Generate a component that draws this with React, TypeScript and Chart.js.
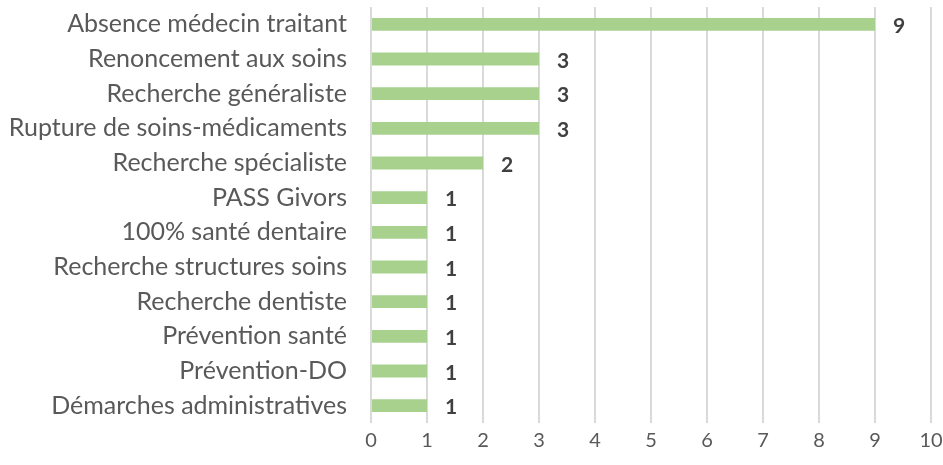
import React, { useEffect, useRef } from "react";
import { Chart, registerables } from "chart.js";

Chart.register(...registerables);

const categories = [
  "Absence médecin traitant",
  "Renoncement aux soins",
  "Recherche généraliste",
  "Rupture de soins-médicaments",
  "Recherche spécialiste",
  "PASS Givors",
  "100% santé dentaire",
  "Recherche structures soins",
  "Recherche dentiste",
  "Prévention santé",
  "Prévention-DO",
  "Démarches administratives",
];
const values = [9, 3, 3, 3, 2, 1, 1, 1, 1, 1, 1, 1];
const xTicks = [0, 1, 2, 3, 4, 5, 6, 7, 8, 9, 10];

const FONT = "Lato, 'Open Sans', sans-serif";

const valueLabels = {
  id: "valueLabels",
  afterDatasetsDraw(chart: any) {
    const ctx = chart.ctx;
    const meta = chart.getDatasetMeta(0);
    ctx.save();
    ctx.font = `bold 21px ${FONT}`;
    ctx.fillStyle = "#404040";
    ctx.textAlign = "left";
    ctx.textBaseline = "middle";
    meta.data.forEach((bar: any, i: number) => {
      ctx.fillText(String(values[i]), bar.x + 18, bar.y + 2);
    });
    ctx.restore();
  },
};

export default function App() {
  const ref = useRef<HTMLCanvasElement>(null);
  useEffect(() => {
    if (!ref.current) return;
    const chart = new Chart(ref.current, {
      type: "bar",
      data: {
        labels: categories,
        datasets: [
          {
            data: values,
            backgroundColor: "#a9d18e",
            barPercentage: 0.37,
            categoryPercentage: 1,
          },
        ],
      },
      plugins: [valueLabels],
      options: {
        indexAxis: "y",
        animation: false,
        responsive: false,
        layout: { padding: { top: 7, right: 12, bottom: 6, left: 0 } },
        plugins: { legend: { display: false }, tooltip: { enabled: false } },
        scales: {
          x: {
            min: 0,
            max: 10,
            afterBuildTicks: (axis: any) => {
              axis.ticks = xTicks.map((v) => ({ value: v }));
            },
            afterFit: (axis: any) => {
              axis.paddingLeft = 0;
              axis.paddingRight = 0;
            },
            grid: { color: "#d9d9d9", lineWidth: 2, drawTicks: false },
            border: { display: false },
            ticks: {
              color: "#595959",
              font: { family: FONT, size: 20 },
              padding: 6,
              maxRotation: 0,
            },
          },
          y: {
            grid: { display: false, drawTicks: false },
            border: { display: false },
            afterFit: (axis: any) => {
              axis.width = 371;
              axis.paddingTop = 0;
              axis.paddingBottom = 0;
            },
            ticks: {
              color: "#595959",
              font: { family: FONT, size: 25 },
              padding: 24,
              autoSkip: false,
            },
          },
        },
      },
    });
    return () => chart.destroy();
  }, []);
  return (
    <div style={{ position: "fixed", left: 0, top: 0, width: 943, height: 465, background: "#fff" }}>
      <canvas ref={ref} width={943} height={465} />
    </div>
  );
}
